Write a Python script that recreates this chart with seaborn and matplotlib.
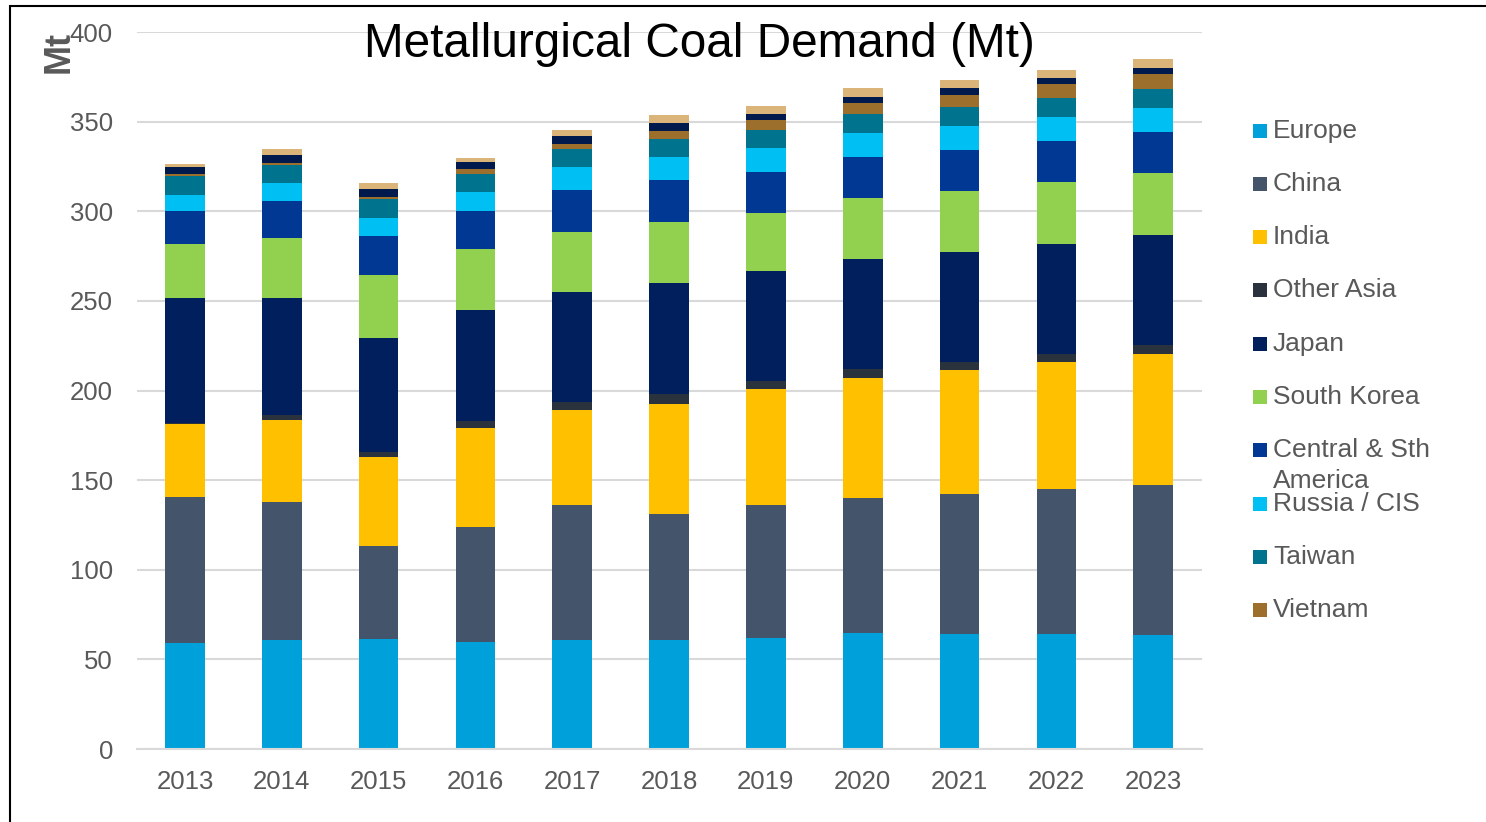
import numpy as np
import matplotlib
matplotlib.use("Agg")
import matplotlib.pyplot as plt
from matplotlib.patches import Rectangle
import seaborn as sns

years = ["2013", "2014", "2015", "2016", "2017", "2018", "2019", "2020", "2021", "2022", "2023"]

series_names = ["Europe", "China", "India", "Other Asia", "Japan", "South Korea",
                "Central & Sth America", "Russia / CIS", "Taiwan", "Vietnam",
                "Other (unlabelled 1)", "Other (unlabelled 2)"]
legend_labels = ["Europe", "China", "India", "Other Asia", "Japan", "South Korea",
                 "Central & Sth\nAmerica", "Russia / CIS", "Taiwan", "Vietnam"]

europe      = [59.0, 60.8, 61.4, 59.7, 61.0, 61.0, 61.9, 64.5, 64.0, 64.0, 63.4]
china       = [81.8, 77.0, 51.9, 64.1, 75.3, 70.3, 74.0, 75.7, 78.3, 80.9, 83.7]
india       = [40.5, 45.9, 49.6, 55.3, 52.7, 61.3, 64.8, 66.9, 69.0, 71.0, 73.4]
other_asia  = [0.8, 2.6, 2.6, 3.9, 4.4, 5.3, 4.6, 4.9, 4.6, 4.5, 4.7]
japan       = [69.3, 65.3, 63.8, 61.9, 61.4, 62.2, 61.5, 61.2, 61.2, 61.5, 61.7]
south_korea = [30.3, 33.6, 35.1, 34.2, 33.5, 33.9, 32.4, 34.0, 34.0, 34.2, 34.3]
cs_america  = [18.3, 20.7, 22.0, 21.0, 23.4, 23.5, 22.9, 23.2, 23.2, 23.3, 23.2]
russia_cis  = [9.3, 9.7, 10.0, 10.6, 13.0, 12.8, 13.0, 13.3, 13.3, 13.1, 13.2]
taiwan      = [10.4, 10.2, 10.4, 10.2, 10.0, 10.0, 10.1, 10.6, 10.7, 10.5, 10.4]
vietnam     = [0.9, 0.9, 1.3, 2.6, 3.0, 4.6, 5.7, 5.9, 6.5, 7.9, 8.6]
unlabelled1 = [4.2, 4.7, 4.3, 4.1, 4.3, 4.5, 3.4, 3.7, 4.1, 3.7, 3.5]
unlabelled2 = [1.6, 3.3, 3.2, 2.4, 3.5, 4.1, 4.6, 4.9, 4.6, 4.4, 4.8]

colors = ["#00A0DA", "#44546A", "#FFC000", "#2A323D", "#001F5C", "#92D050",
          "#003893", "#00BFF3", "#00738F", "#9C6F2C", "#001A4D", "#DBB47A"]

data = [europe, china, india, other_asia, japan, south_korea, cs_america,
        russia_cis, taiwan, vietnam, unlabelled1, unlabelled2]

sns.set_style("white")
plt.rcParams["font.family"] = ["Liberation Sans", "DejaVu Sans"]

fig = plt.figure(figsize=(14.86, 8.22), dpi=100)
ax = fig.add_axes([0.0919, 0.0888, 0.7167, 0.8722])

cum = np.cumsum(np.array(data), axis=0)
for i in range(len(data) - 1, -1, -1):
    sns.barplot(x=years, y=cum[i], color=colors[i], saturation=1, width=0.41,
                ax=ax, edgecolor="none", linewidth=0)

ax.set_ylim(0, 400)
ax.set_xlim(-0.5, len(years) - 0.5)
ax.set_yticks(np.arange(0, 401, 50))
ax.yaxis.grid(True, color="#D9D9D9", linewidth=1.5)
ax.set_axisbelow(True)
for s in ["top", "right", "left"]:
    ax.spines[s].set_visible(False)
ax.spines["bottom"].set_color("#D9D9D9")
ax.spines["bottom"].set_linewidth(1.5)
ax.tick_params(axis="both", length=0, labelsize=18.5, labelcolor="#595959")
ax.tick_params(axis="y", pad=17)
ax.tick_params(axis="x", pad=15)
ax.set_xlabel("")
ax.set_ylabel("")

fig.text(0.471, 0.946, "Metallurgical Coal Demand (Mt)", ha="center", va="center",
         fontsize=34.4, color="black")
fig.text(0.040, 0.937, "Mt", rotation=90, ha="center", va="center", fontsize=26,
         fontweight="bold", color="#595959")

# legend
W, H = 1486.0, 822.0
ys = [131, 184, 237, 290, 344, 397, 450, 504, 557, 610]
for lab, col, y in zip(legend_labels, colors[:10], ys):
    fig.patches.append(Rectangle((1253 / W, 1 - (y + 7) / H), 14 / W, 14 / H,
                                 transform=fig.transFigure, facecolor=col,
                                 edgecolor="none"))
    lines = lab.split("\n")
    for k, line in enumerate(lines):
        fig.text(1273 / W, 1 - (y + 31 * k) / H, line, ha="left", va="center",
                 fontsize=19, color="#595959")

# frame
fig.patches.append(Rectangle((10 / W, -0.01), 1.02, 1 - 6 / H + 0.01,
                             transform=fig.transFigure, facecolor="none",
                             edgecolor="black", linewidth=1.5))

fig.savefig("out.png", dpi=100)
